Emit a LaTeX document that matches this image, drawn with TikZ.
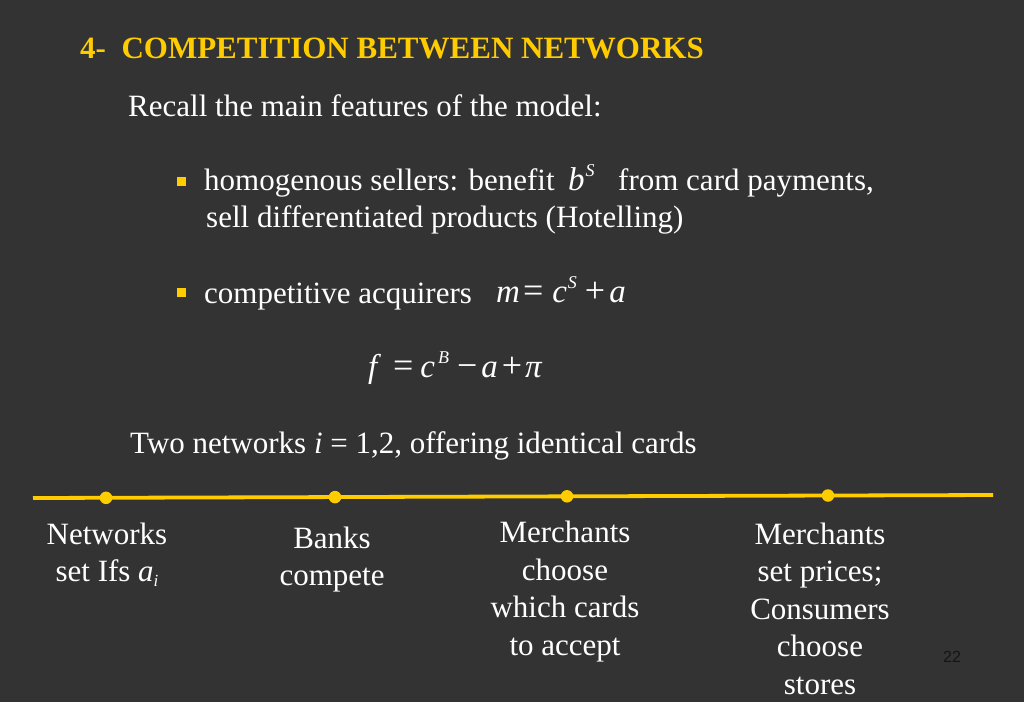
\documentclass[tikz,border=0pt]{standalone}
\usepackage{fontspec}
\setmainfont{Liberation Serif}
\newfontfamily\pnumfont{Liberation Sans}
\definecolor{bgc}{RGB}{51,51,51}
\definecolor{gold}{RGB}{255,204,0}
\definecolor{pnum}{RGB}{20,20,20}
\newcommand\iv[1]{\textit{#1}}
\newcommand\sps[1]{\raisebox{14pt}{\fontsize{18}{18}\selectfont\textit{#1}}}
\newcommand\mop[1]{{\fontsize{36}{36}\selectfont #1}}
\newcommand\fh{\rule{0pt}{25pt}}
\tikzset{
  body/.style={text=white, font=\fontsize{31}{37.5}\selectfont, inner sep=0pt, anchor=base west},
  mth/.style={text=white, font=\fontsize{33}{37.5}\selectfont, inner sep=0pt, anchor=base west},
  ttl/.style={text=gold, font=\fontsize{31}{37.5}\selectfont\bfseries, inner sep=0pt, anchor=base west},
  bsq/.style={fill=gold, draw=none, minimum size=9pt, inner sep=0pt, rectangle},
  dotn/.style={circle, fill=gold, draw=none, minimum size=12.5pt, inner sep=0pt},
  tline/.style={draw=gold, line width=3.8pt},
  lbl/.style={text=white, font=\fontsize{31}{37.5}\selectfont, inner sep=0pt, anchor=north, align=center},
  pnumst/.style={text=pnum, font=\pnumfont\fontsize{16}{18}\selectfont, inner sep=0pt, anchor=base west}
}
\begin{document}
\begin{tikzpicture}[x=1pt,y=-1pt]
\fill[bgc] (0,0) rectangle (1024,702);
\useasboundingbox (0,0) rectangle (1024,702);

\node[ttl] (title) at (80,58) {4-\ \ COMPETITION BETWEEN NETWORKS};
\node[body] (recall) at (128,116) {Recall the main features of the model:};

\node[bsq] (b1) at (181.5,181.5) {};
\node[body] (h1) at (204,190) {homogenous sellers: benefit};
\node[mth] (bS) at (568,190) {\iv{b}\hspace{1pt}\sps{S}};
\node[body] (h2) at (618,190) {from card payments,};
\node[body] (h3) at (206,227) {sell differentiated products (Hotelling)};

\node[bsq] (b2) at (181.5,292.5) {};
\node[body] (c1) at (204,303) {competitive acquirers};
\node[mth] (meq) at (496,302) {\iv{m}\hspace{3pt}\mop{=}\hspace{9pt}\iv{c}\hspace{1pt}\sps{S}\hspace{8pt}\mop{+}\hspace{4pt}\iv{a}};

\node[mth] (feq) at (368,377) {\iv{f}\hspace{12pt}\mop{=}\hspace{7pt}\iv{c}\hspace{3pt}\sps{B}\hspace{8pt}\mop{−}\hspace{4pt}\iv{a}\hspace{4pt}\mop{+}\hspace{3pt}\iv{π}};

\node[body] (two) at (130,453) {Two networks \iv{i} = 1,2, offering identical cards};

\coordinate (L) at (33,498);
\coordinate (R) at (993,495);
\draw[tline] (L) -- (R);
\node[dotn] (d1) at (106,497.8) {};
\node[dotn] (d2) at (335,497.1) {};
\node[dotn] (d3) at (567,496.3) {};
\node[dotn] (d4) at (828,495.5) {};

\node[lbl] (t1) at (107,544-25) {\fh Networks\\ set Ifs \iv{a}\raisebox{-5pt}{\fontsize{17}{17}\selectfont\iv{i}}};
\node[lbl] (t2) at (332,548-25) {\fh Banks\\ compete};
\node[lbl] (t3) at (565,542.5-25) {\fh Merchants\\ choose\\ which cards\\ to accept};
\node[lbl] (t4) at (820,544-25) {\fh Merchants\\ set prices;\\ Consumers\\ choose\\ stores};

\node[pnumst] (pn) at (943,662) {22};
\end{tikzpicture}
\end{document}
